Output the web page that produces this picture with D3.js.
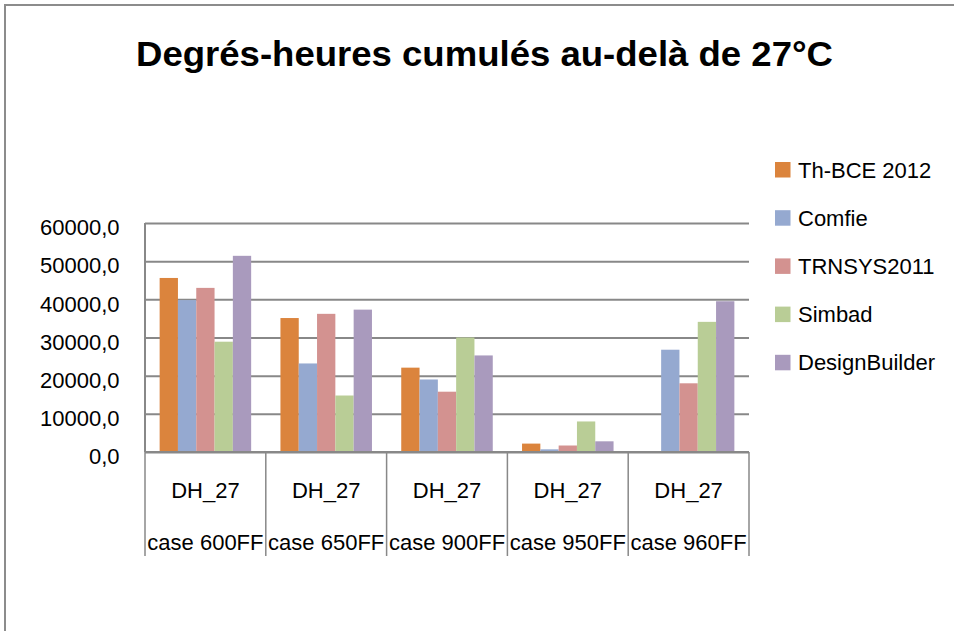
<!DOCTYPE html>
<html>
<head>
<meta charset="utf-8">
<script src="https://cdn.jsdelivr.net/npm/d3@7"></script>
<style>
	body { margin: 0; background: #fff; }
	svg text { font-family: "Liberation Sans", Arial, sans-serif; fill: #000; }
</style>
</head>
<body>
<div id="chart"></div>
<script>
// data
const CASES = ["case 600FF", "case 650FF", "case 900FF", "case 950FF", "case 960FF"];
const SUBLABEL = "DH_27";
const SERIES = ["Th-BCE 2012", "Comfie", "TRNSYS2011", "Simbad", "DesignBuilder"];
const thbce = [45600, 35100, 22100, 2200, 0];
const comfie = [39800, 23200, 19000, 700, 26800];
const trnsys = [43000, 36200, 15800, 1700, 18000];
const simbad = [28900, 14800, 30000, 8000, 34100];
const designBuilder = [51400, 37300, 25300, 2800, 39500];
const Y_TICKS = [0, 10000, 20000, 30000, 40000, 50000, 60000];
const COLORS = ["#db843d", "#95a9d0", "#d39290", "#b9cd96", "#a99abd"];

const values = [thbce, comfie, trnsys, simbad, designBuilder];
const rows = [];
SERIES.forEach((s, i) => {
	CASES.forEach((c, j) => {
		rows.push({ series: s, cat: c, value: values[i][j] });
	});
});

const w = 954;
const h = 631;
const plotLeft = 145;
const plotRight = 749;
const plotTop = 223;
const plotBottom = 452;

const svg = d3
	.select("#chart")
	.append("svg")
	.attr("width", w)
	.attr("height", h);

// outer frame, runs off the right and bottom edges
svg
	.append("rect")
	.attr("x", 5)
	.attr("y", 5)
	.attr("width", w + 20)
	.attr("height", h + 20)
	.attr("fill", "none")
	.attr("stroke", "#8c8c8c")
	.attr("stroke-width", 2);

svg
	.append("text")
	.attr("x", 484.5)
	.attr("y", 66)
	.attr("text-anchor", "middle")
	.attr("font-size", 35)
	.attr("font-weight", "bold")
	.attr("textLength", 697)
	.attr("lengthAdjust", "spacingAndGlyphs")
	.text("Degrés-heures cumulés au-delà de 27°C");

const xScale = d3.scaleBand().domain(CASES).range([plotLeft, plotRight]).padding(0);
const xInner = d3
	.scaleBand()
	.domain(SERIES)
	.range([0, xScale.bandwidth()])
	.paddingInner(0)
	.paddingOuter(0.8);
const yScale = d3.scaleLinear().domain([0, 60000]).range([plotBottom, plotTop]);
const color = d3.scaleOrdinal().domain(SERIES).range(COLORS);

// gridlines + tick labels
const yAxis = d3
	.axisLeft(yScale)
	.tickValues(Y_TICKS)
	.tickSize(-(plotRight - plotLeft))
	.tickPadding(25)
	.tickFormat((d) => d3.format(".1f")(d).replace(".", ","));

const gy = svg
	.append("g")
	.attr("transform", "translate(" + plotLeft + ",0)")
	.call(yAxis);
gy.select(".domain").remove();
gy.selectAll(".tick line").attr("stroke", "#888").attr("stroke-width", 2);
gy.selectAll(".tick text")
	.attr("font-size", 22)
	.attr("font-family", "Liberation Sans, Arial, sans-serif")
	.attr("fill", "#000")
	.attr("x", 119.5 - plotLeft)
	.attr("dy", "0.6em")
	.attr("y", -1.5);

// left axis line
svg
	.append("line")
	.attr("x1", plotLeft)
	.attr("x2", plotLeft)
	.attr("y1", plotTop)
	.attr("y2", plotBottom)
	.attr("stroke", "#888")
	.attr("stroke-width", 2);

// bars
svg
	.selectAll("rect.bar")
	.data(rows)
	.enter()
	.append("rect")
	.attr("class", "bar")
	.attr("x", (d) => xScale(d.cat) + xInner(d.series))
	.attr("y", (d) => yScale(d.value))
	.attr("width", xInner.bandwidth())
	.attr("height", (d) => yScale(0) - yScale(d.value))
	.attr("fill", (d) => color(d.series));

// category axis: baseline and separators
svg
	.append("line")
	.attr("x1", plotLeft)
	.attr("x2", plotRight)
	.attr("y1", plotBottom)
	.attr("y2", plotBottom)
	.attr("stroke", "#888")
	.attr("stroke-width", 2);

const seps = CASES.map((c) => xScale(c)).concat([plotRight]);
svg
	.selectAll("line.sep")
	.data(seps)
	.enter()
	.append("line")
	.attr("class", "sep")
	.attr("x1", (d) => d)
	.attr("x2", (d) => d)
	.attr("y1", plotBottom)
	.attr("y2", 556)
	.attr("stroke", "#888")
	.attr("stroke-width", 1.5);

const catG = svg
	.selectAll("g.cat")
	.data(CASES)
	.enter()
	.append("g")
	.attr("class", "cat")
	.attr("transform", (d) => "translate(" + (xScale(d) + xScale.bandwidth() / 2) + ",0)");

catG
	.append("text")
	.attr("y", 498)
	.attr("text-anchor", "middle")
	.attr("font-size", 22)
	.text(SUBLABEL);

catG
	.append("text")
	.attr("y", 550)
	.attr("text-anchor", "middle")
	.attr("font-size", 22)
	.text((d) => d);

// legend
const legend = svg
	.selectAll("g.legend")
	.data(SERIES)
	.enter()
	.append("g")
	.attr("class", "legend")
	.attr("transform", (d, i) => "translate(775," + (169.5 + i * 48.2) + ")");

legend
	.append("rect")
	.attr("x", 0)
	.attr("y", -7.5)
	.attr("width", 15.5)
	.attr("height", 15.5)
	.attr("fill", (d) => color(d));

legend
	.append("text")
	.attr("x", 23)
	.attr("y", 8)
	.attr("font-size", 22)
	.text((d) => d);
</script>
</body>
</html>
